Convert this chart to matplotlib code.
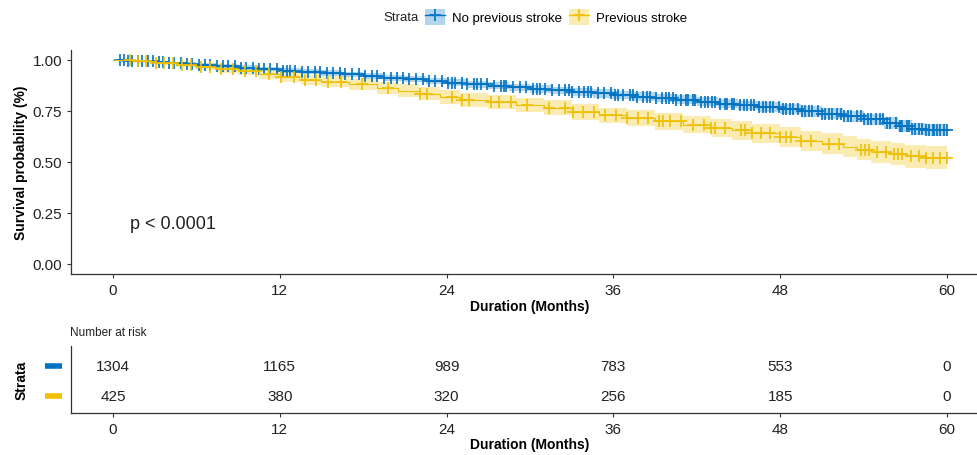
import matplotlib.pyplot as plt
import numpy as np
from matplotlib.patches import Patch
from matplotlib.lines import Line2D

plt.rcParams['font.family'] = ['Liberation Sans', 'DejaVu Sans']

# ---- data ----
strata = ['No previous stroke', 'Previous stroke']
colors = ['#0073C2', '#EFC000']

t_no = [0, 1.0, 2.0, 3.0, 4.0, 5.0, 6.0, 7.5, 9.0, 10.5, 12.0, 13.5, 15.0, 16.5, 18.0,
        19.5, 21.0, 22.5, 24.0, 25.5, 27.0, 28.5, 30.0, 31.5, 33.0, 34.5, 36.0, 37.5,
        39.0, 40.5, 42.0, 43.5, 45.0, 46.5, 48.0, 49.5, 51.0, 52.5, 54.0, 55.5, 56.5,
        57.5, 58.5, 60.0]
s_no = [1.0, 0.997, 0.993, 0.989, 0.985, 0.980, 0.975, 0.970, 0.963, 0.956, 0.948,
        0.942, 0.936, 0.929, 0.921, 0.913, 0.905, 0.897, 0.889, 0.882, 0.874, 0.866,
        0.858, 0.851, 0.843, 0.836, 0.829, 0.821, 0.813, 0.805, 0.795, 0.786, 0.777,
        0.768, 0.758, 0.748, 0.737, 0.724, 0.710, 0.692, 0.676, 0.662, 0.655, 0.655]
ci_no = [0.0, 0.003, 0.005, 0.006, 0.007, 0.008, 0.009, 0.010, 0.011, 0.011, 0.012,
         0.013, 0.013, 0.014, 0.014, 0.015, 0.015, 0.016, 0.016, 0.017, 0.017, 0.018,
         0.018, 0.019, 0.019, 0.020, 0.020, 0.021, 0.021, 0.022, 0.022, 0.023, 0.023,
         0.024, 0.025, 0.025, 0.026, 0.026, 0.027, 0.028, 0.028, 0.029, 0.030, 0.030]

t_prev = [0, 1.5, 3.0, 4.5, 6.0, 7.5, 9.0, 10.5, 12.0, 13.5, 15.0, 17.0, 19.0, 20.5,
          22.0, 23.5, 25.0, 27.0, 29.0, 31.0, 33.0, 35.0, 37.0, 39.0, 41.0, 43.0, 44.5,
          46.0, 48.0, 49.5, 51.0, 52.5, 53.5, 54.5, 56.0, 57.0, 58.5, 60.0]
s_prev = [1.0, 0.993, 0.985, 0.976, 0.966, 0.955, 0.944, 0.930, 0.916, 0.903, 0.893,
          0.880, 0.864, 0.850, 0.835, 0.818, 0.805, 0.793, 0.780, 0.765, 0.745, 0.728,
          0.717, 0.700, 0.683, 0.668, 0.655, 0.640, 0.622, 0.603, 0.590, 0.575, 0.560,
          0.550, 0.538, 0.527, 0.522, 0.522]
ci_prev = [0.0, 0.006, 0.009, 0.012, 0.015, 0.017, 0.019, 0.021, 0.023, 0.025, 0.027,
           0.028, 0.030, 0.031, 0.032, 0.033, 0.034, 0.035, 0.036, 0.037, 0.038, 0.039,
           0.040, 0.041, 0.043, 0.044, 0.045, 0.046, 0.048, 0.049, 0.050, 0.051, 0.052,
           0.053, 0.054, 0.055, 0.056, 0.056]

cens_no = [0.5, 0.8, 1.1, 1.4, 1.8, 2.1, 2.5, 2.9, 3.3, 3.6, 4.0, 4.4, 4.9, 5.3, 5.7,
           6.2, 6.6, 7.0, 7.5, 7.9, 8.3, 8.8, 9.2, 9.6, 10.1, 10.5, 10.9, 11.3, 11.8,
           12.2, 12.5, 12.7, 13.1, 13.6, 14.0, 14.5, 14.9, 15.4, 15.8, 16.3, 16.7, 17.2,
           17.7, 18.1, 18.6, 19.0, 19.5, 20.0, 20.4, 20.9, 21.3, 21.8, 22.3, 22.7, 23.2,
           23.7, 24.1, 24.4, 24.6, 25.1, 25.5, 26.0, 26.2, 26.5, 26.9, 27.4, 27.9, 28.1,
           28.3, 28.8, 29.3, 29.7, 30.2, 30.5, 30.7, 31.1, 31.6, 32.1, 32.5, 32.8, 33.0,
           33.5, 33.9, 34.2, 34.4, 34.9, 35.3, 35.8, 36.1, 36.3, 36.7, 37.2, 37.4, 37.7,
           38.1, 38.4, 38.6, 39.1, 39.5, 39.8, 40.0, 40.3, 40.5, 40.9, 41.2, 41.4, 41.7,
           41.9, 42.3, 42.6, 42.8, 43.1, 43.3, 43.7, 44.0, 44.2, 44.5, 44.7, 45.1, 45.4,
           45.6, 45.9, 46.1, 46.5, 46.8, 47.0, 47.3, 47.5, 47.9, 48.2, 48.4, 48.7, 48.9,
           49.3, 49.6, 49.8, 50.1, 50.3, 50.7, 51.0, 51.2, 51.5, 51.7, 52.1, 52.4, 52.6,
           52.9, 53.1, 53.5, 53.8, 54.0, 54.3, 54.5, 54.9, 55.2, 55.4, 55.7, 55.9, 56.3,
           56.6, 56.8, 57.1, 57.3, 57.5, 57.7, 58.0, 58.2, 58.5, 58.7, 59.0, 59.1, 59.3,
           59.5, 59.8, 60.0]
cens_prev = [1.2, 1.8, 2.4, 3.1, 3.7, 4.3, 5.0, 5.6, 6.3, 7.0, 7.8, 8.6, 9.5, 10.3,
             11.2, 12.1, 13.0, 13.8, 14.6, 15.5, 16.4, 17.9, 19.8, 22.1, 22.6, 24.4,
             25.1, 25.6, 27.2, 27.8, 28.6, 29.8, 31.4, 32.5, 33.1, 33.8, 34.6, 35.4,
             36.2, 37.0, 37.8, 38.5, 39.3, 39.6, 40.1, 40.9, 41.7, 42.5, 43.0, 43.3,
             44.0, 45.2, 45.5, 46.0, 46.6, 47.3, 48.0, 48.4, 48.8, 49.5, 50.2, 51.5,
             52.2, 53.8, 54.1, 54.4, 55.0, 55.6, 56.2, 56.5, 56.8, 57.4, 58.0, 58.5,
             59.0, 59.5, 60.0]

risk_times = [0, 12, 24, 36, 48, 60]
risk_no = [1304, 1165, 989, 783, 553, 0]
risk_prev = [425, 380, 320, 256, 185, 0]

# ---- figure ----
fig = plt.figure(figsize=(9.78, 4.56), dpi=100)
ax = fig.add_axes([0.0729, 0.3965, 0.938, 0.4921])
rax = fig.add_axes([0.0729, 0.0921, 0.938, 0.1469])

curves = [(t_no, s_no, ci_no, cens_no), (t_prev, s_prev, ci_prev, cens_prev)]
for (t, s, ci, cens), col in zip(curves, colors):
    t = np.array(t); s = np.array(s); ci = np.array(ci)
    ax.fill_between(t, s - ci, np.minimum(s + ci, 1.0), step='post',
                    color=col, alpha=0.3, lw=0)
    ax.step(t, s, where='post', color=col, lw=0.8)
    idx = np.searchsorted(t, cens, side='right') - 1
    ax.plot(cens, s[idx], ls='none', marker='+', ms=8, mew=1.2, color=col)

ax.set_xlim(-3, 63)
ax.set_ylim(-0.05, 1.05)
ax.set_xticks(risk_times)
ax.set_yticks([0, 0.25, 0.5, 0.75, 1.0])
ax.set_yticklabels(['0.00', '0.25', '0.50', '0.75', '1.00'])
ax.set_xlabel('Duration (Months)', fontweight='bold', fontsize=10, labelpad=1)
ax.set_ylabel('Survival probability (%)', fontweight='bold', fontsize=10)
ax.yaxis.set_label_coords(-0.047, 0.5)
ax.text(1.2, 0.2, 'p < 0.0001', fontsize=13, va='center', ha='left', color='#222222')

for a in (ax, rax):
    for side in ('top', 'right'):
        a.spines[side].set_visible(False)
    for side in ('left', 'bottom'):
        a.spines[side].set_color('#333333')
        a.spines[side].set_linewidth(0.9)
    a.tick_params(labelsize=11, colors='#333333', length=3, width=0.8, labelcolor='#222222')

# risk table
rax.set_xlim(-3, 63)
rax.set_ylim(0.43, 2.67)
rax.set_xticks(risk_times)
rax.set_yticks([2, 1])
rax.set_yticklabels([])
rax.tick_params(axis='y', length=0)
for y, vals in zip([2, 1], [risk_no, risk_prev]):
    for x, v in zip(risk_times, vals):
        rax.text(x, y, str(v), ha='center', va='center', fontsize=11, color='#222222')
for yfig, col in zip([(456 - 367) / 456, (456 - 397) / 456], colors):
    fig.add_artist(Line2D([45 / 978, 62 / 978], [yfig, yfig], color=col, lw=4,
                          solid_capstyle='butt'))
rax.set_xlabel('Duration (Months)', fontweight='bold', fontsize=10, labelpad=1)
rax.set_ylabel('Strata', fontweight='bold', fontsize=10)
rax.yaxis.set_label_coords(-0.047, 0.5)
fig.text(0.0716, 0.27, 'Number at risk', fontsize=8.5, va='center', ha='left', color='#222222')

# legend at top
handles = [(Patch(facecolor=c, alpha=0.3, edgecolor='none'),
            Line2D([], [], color=c, marker='+', ms=9, mew=1.2, lw=1)) for c in colors]
fig.text(0.392, 0.961, 'Strata', fontsize=9.5, va='center', ha='left', color='#222222')
fig.legend(handles, strata, ncol=2, loc='center left', bbox_to_anchor=(0.428, 0.961),
           frameon=False, fontsize=9.5, handlelength=1.5, handleheight=1.5,
           handletextpad=0.5, columnspacing=0.6, borderpad=0)

fig.savefig('out.png', dpi=100)
